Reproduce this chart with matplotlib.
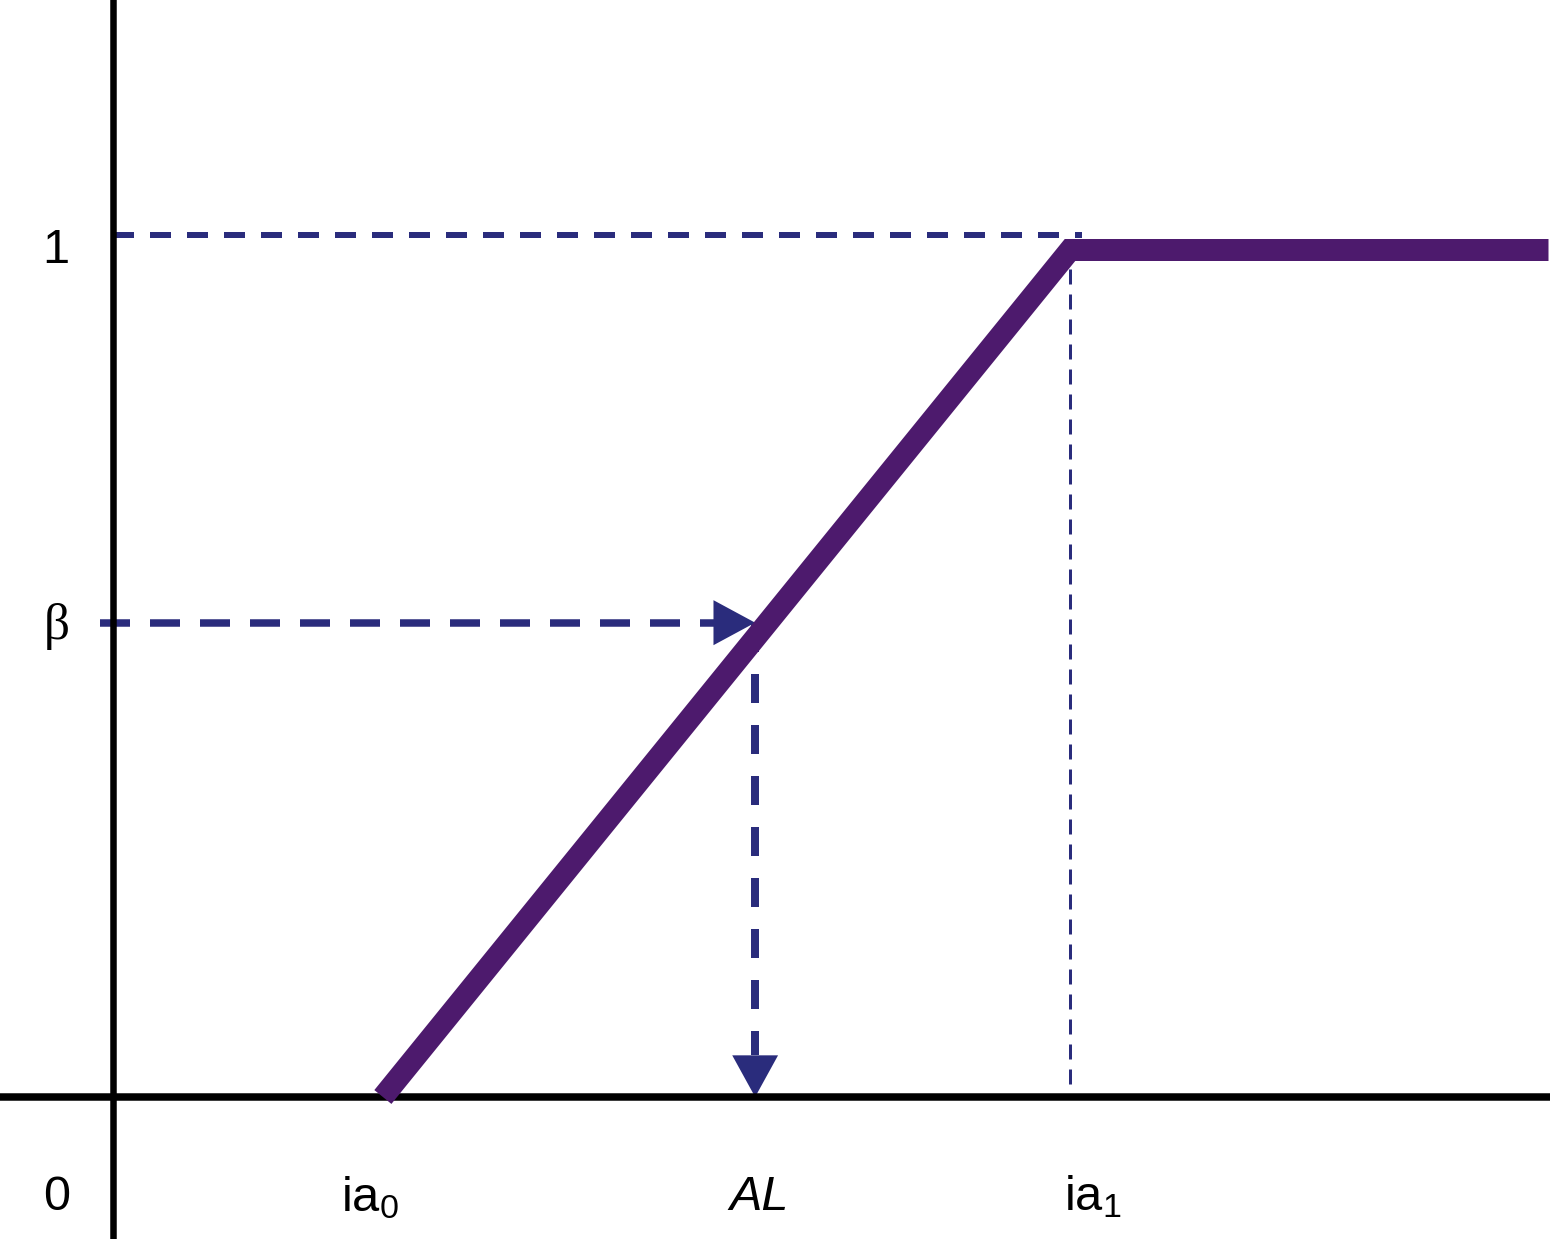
import matplotlib
matplotlib.use("Agg")
import matplotlib.pyplot as plt
from matplotlib.transforms import ScaledTranslation

plt.rcParams['font.family'] = ['Liberation Sans', 'DejaVu Sans']
plt.rcParams['mathtext.fontset'] = 'custom'
plt.rcParams['mathtext.rm'] = 'Liberation Sans'
plt.rcParams['mathtext.it'] = 'Liberation Sans:italic'
plt.rcParams['lines.scale_dashes'] = False

# ---- data (diagram values) ----
ia0 = 0.282          # lower bound of the ramp
ia1 = 1.0            # upper bound of the ramp
x_end = 1.50         # right end of the plateau
beta = 0.56          # chosen level
AL = 0.671           # resulting value on the x axis
curve_x = [ia0, ia1, x_end]
curve_y = [0.0, 1.0, 1.0]
x_tick_labels = [r'$\mathregular{ia_0}$', 'AL', r'$\mathregular{ia_1}$']
x_tick_values = [ia0, AL, ia1]
y_tick_labels = ['0', '1']
y_tick_values = [0.0, 1.0]

PURPLE = '#4d1a6d'
NAVY = '#2a2c7c'

fig = plt.figure(figsize=(15.5, 12.39), dpi=100)
ax = fig.add_axes([0, 0, 1, 1])
ax.set_xlim(-113 / 957, 1437 / 957)
ax.set_ylim(-142 / 847, 1097 / 847)
ax.axis('off')

px = 72 / 100  # points per pixel

def off(dx, dy):
    return ax.transData + ScaledTranslation(dx / 100, dy / 100, fig.dpi_scale_trans)

# axes lines
ax.axvline(0, ymin=0.0015, ymax=1, color='black', lw=6.5 * px, zorder=3)
ax.axhline(0, color='black', lw=7.5 * px, zorder=3)

# dashed level line for 1 (drawn slightly above the plateau)
ax.plot([0, ia1 + 0.013], [1, 1], color=NAVY, lw=6 * px,
        dashes=(21 * px, 16 * px), transform=off(0, 15), zorder=2)
# thin vertical dashed at ia1
ax.plot([ia1, ia1], [0, 1], color=NAVY, lw=3 * px,
        dashes=(15 * px, 10 * px), transform=off(0, 13), zorder=2)

# beta horizontal dashed arrow
ax.plot([-0.0136, AL - 0.042], [beta, beta], color=NAVY, lw=7.5 * px,
        dashes=(30 * px, 20 * px), zorder=2, solid_capstyle='butt',
        dash_capstyle='butt')
ax.annotate('', xy=(AL, beta), xytext=(AL - 0.05, beta),
            arrowprops=dict(arrowstyle='-|>,head_length=1.0,head_width=0.54',
                            mutation_scale=30, color=NAVY, lw=0,
                            shrinkA=0, shrinkB=0), zorder=2)

# vertical dashed arrow from curve down to AL
ax.plot([AL, AL], [beta, 0.05], color=NAVY, lw=8 * px,
        dashes=(29 * px, 22 * px), zorder=2, dash_capstyle='butt')
ax.annotate('', xy=(AL, 0.0), xytext=(AL, 0.06),
            arrowprops=dict(arrowstyle='-|>,head_length=1.0,head_width=0.55',
                            mutation_scale=30, color=NAVY, lw=0,
                            shrinkA=0, shrinkB=0), zorder=2)

# the membership curve
ax.plot(curve_x, curve_y, color=PURPLE, lw=22 * px, solid_capstyle='butt',
        solid_joinstyle='miter', zorder=4)

FS = 35
# y labels
y_offsets = [(-56, -113), (-57, -13)]
for lab, val, (dx, dy) in zip(y_tick_labels, y_tick_values, y_offsets):
    ax.annotate(lab, xy=(0, val), xytext=(dx, dy), textcoords='offset pixels',
                ha='center', va='baseline', fontsize=FS)
ax.annotate('β', xy=(0, beta), xytext=(-56, -4), textcoords='offset pixels',
            ha='center', va='center', fontsize=FS + 2,
            family=['Liberation Serif', 'DejaVu Serif'])

# x labels
x_offsets = [(-13, -114), (4, -113), (23, -113)]
for lab, val, (dx, dy) in zip(x_tick_labels, x_tick_values, x_offsets):
    style = 'italic' if lab == 'AL' else 'normal'
    ax.annotate(lab, xy=(val, 0), xytext=(dx, dy), textcoords='offset pixels',
                ha='center', va='baseline', fontsize=FS, fontstyle=style)

fig.savefig('out.png', dpi=100)
